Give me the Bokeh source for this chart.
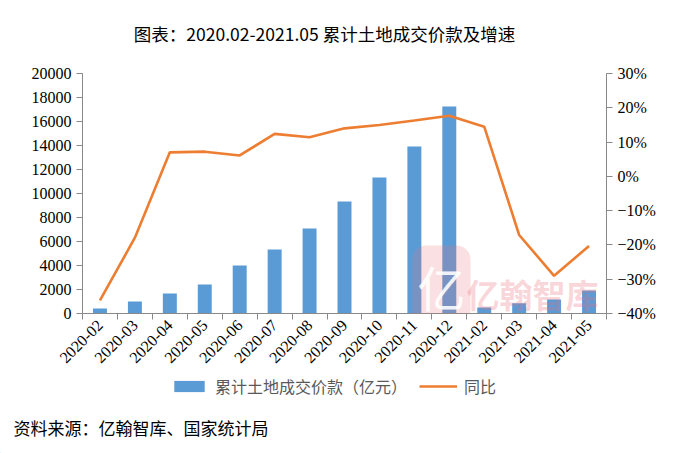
from bokeh.plotting import figure
from bokeh.layouts import column
from bokeh.models import (Range1d, LinearAxis, FixedTicker, Legend, LegendItem,
                          Label, ColumnDataSource)
from bokeh.embed import file_html
from bokeh.resources import INLINE
import math

# ---- data ----
months = ["2020-02", "2020-03", "2020-04", "2020-05", "2020-06", "2020-07",
          "2020-08", "2020-09", "2020-10", "2020-11", "2020-12",
          "2021-02", "2021-03", "2021-04", "2021-05"]
land_price = [420, 1000, 1670, 2420, 4000, 5330, 7080, 9330, 11330, 13920,
              17250, 500, 860, 1170, 1920]
yoy = [-36.2, -17.9, 7.0, 7.2, 6.1, 12.4, 11.4, 14.0, 15.0, 16.3, 17.7,
       14.5, -17.1, -29.0, -20.3]
left_ticks = [0, 2000, 4000, 6000, 8000, 10000, 12000, 14000, 16000, 18000, 20000]
right_ticks = [-40, -30, -20, -10, 0, 10, 20, 30]
right_labels = ["\u221240%", "\u221230%", "\u221220%", "\u221210%", "0%", "10%", "20%", "30%"]

title_text = "图表：2020.02-2021.05 累计土地成交价款及增速"
source_text = "资料来源：亿翰智库、国家统计局"
bar_name = "累计土地成交价款（亿元）"
line_name = "同比"

BAR = "#5B9BD5"
LINE = "#ED7D31"
AX = "#898989"
SERIF = "Liberation Serif"
CJK = "Noto Sans CJK SC"
W = 690


def blank(h):
    f = figure(width=W, height=h, output_backend="svg", toolbar_location=None,
               x_range=Range1d(0, W), y_range=Range1d(0, h), min_border=0,
               x_axis_type=None, y_axis_type=None, frame_align=False)
    f.outline_line_color = None
    f.xgrid.visible = False
    f.ygrid.visible = False
    return f


# ---- title strip ----
TOP_H = 60
ptop = blank(TOP_H)
ptop.add_layout(Label(x=324, y=TOP_H - 33, text=title_text, text_font=CJK,
                      text_font_size="17.5px", text_color="#000000",
                      text_align="center", text_baseline="middle"))

# ---- main chart ----
n = len(months)
xc = [i + 0.5 for i in range(n)]
src = ColumnDataSource(dict(x=xc, v=land_price, y=yoy))

MAIN_H = 313
p = figure(width=W, height=MAIN_H, output_backend="svg", toolbar_location=None,
           x_range=Range1d(0, n), y_range=Range1d(0, 20000),
           min_border_left=82, min_border_right=84, min_border_top=13,
           min_border_bottom=60, x_axis_type=None, y_axis_type=None,
           frame_align=False)
p.outline_line_color = None
p.xgrid.visible = False
p.ygrid.visible = False
p.extra_y_ranges = {"pct": Range1d(-40, 30)}

bars = p.vbar(x="x", top="v", width=0.4, bottom=0, source=src,
              fill_color=BAR, line_color=None)
line = p.line(x="x", y="y", source=src, y_range_name="pct",
              line_color=LINE, line_width=2.6)

xaxis = LinearAxis(ticker=FixedTicker(ticks=xc, minor_ticks=list(range(n + 1))))
xaxis.major_label_overrides = {x: m for x, m in zip(xc, months)}
xaxis.major_label_orientation = math.pi / 4
xaxis.major_tick_out = 0
xaxis.major_tick_in = 0
xaxis.minor_tick_out = 6
xaxis.minor_tick_in = 0
xaxis.minor_tick_line_color = AX
xaxis.axis_line_color = AX
xaxis.major_label_text_font = SERIF
xaxis.major_label_text_font_size = "16px"
xaxis.major_label_text_color = "#000000"
xaxis.major_label_standoff = 3
p.add_layout(xaxis, "below")

laxis = LinearAxis(ticker=FixedTicker(ticks=left_ticks, minor_ticks=[]))
laxis.major_tick_out = 6
laxis.major_tick_in = 0
laxis.major_tick_line_color = AX
laxis.axis_line_color = AX
laxis.major_label_text_font = SERIF
laxis.major_label_text_font_size = "16px"
laxis.major_label_text_color = "#000000"
laxis.major_label_standoff = 5
p.add_layout(laxis, "left")

raxis = LinearAxis(y_range_name="pct", ticker=FixedTicker(ticks=right_ticks, minor_ticks=[]))
raxis.major_label_overrides = {t: l for t, l in zip(right_ticks, right_labels)}
raxis.major_tick_out = 6
raxis.major_tick_in = 0
raxis.major_tick_line_color = AX
raxis.axis_line_color = AX
raxis.major_label_text_font = SERIF
raxis.major_label_text_font_size = "16px"
raxis.major_label_text_color = "#000000"
raxis.major_label_standoff = 5
p.add_layout(raxis, "right")

# watermark (screen units relative to the frame's bottom-left)
p.add_layout(Label(x=330, y=-12, x_units="screen", y_units="screen",
                   text="亿", text_font=CJK, text_font_size="48px",
                   text_color="#FFFFFF", text_alpha=0.9,
                   background_fill_color="#E8707C", background_fill_alpha=0.22,
                   padding=5, border_radius=14))
p.add_layout(Label(x=384, y=-4, x_units="screen", y_units="screen",
                   text="亿翰智库", text_font=CJK, text_font_size="33px",
                   text_font_style="bold", text_color="#E8707C", text_alpha=0.28))

# ---- legend + source strip ----
BOT_H = 453 - TOP_H - MAIN_H
pbot = blank(BOT_H)
# legend proxies placed outside the visible range
lb = pbot.vbar(x=[-9999], top=[1], width=1, fill_color=BAR, line_color=None)
ll = pbot.line(x=[-9999, -9998], y=[0, 0], line_color=LINE, line_width=2.6)
legend = Legend(items=[LegendItem(label=bar_name, renderers=[lb]),
                       LegendItem(label=line_name, renderers=[ll])],
                orientation="horizontal", location=(170, BOT_H - 25),
                glyph_width=38, glyph_height=14, label_standoff=7, spacing=12,
                padding=0, margin=0, border_line_color=None,
                background_fill_alpha=0,
                label_text_font=CJK, label_text_font_size="16px",
                label_text_color="#595959")
pbot.add_layout(legend, "center")
pbot.add_layout(Label(x=13, y=453 - 427, text=source_text, text_font=CJK,
                      text_font_size="17px", text_color="#000000",
                      text_align="left", text_baseline="middle"))

layout = column(ptop, p, pbot, spacing=0)
open("out.html", "w").write(file_html(layout, INLINE))
